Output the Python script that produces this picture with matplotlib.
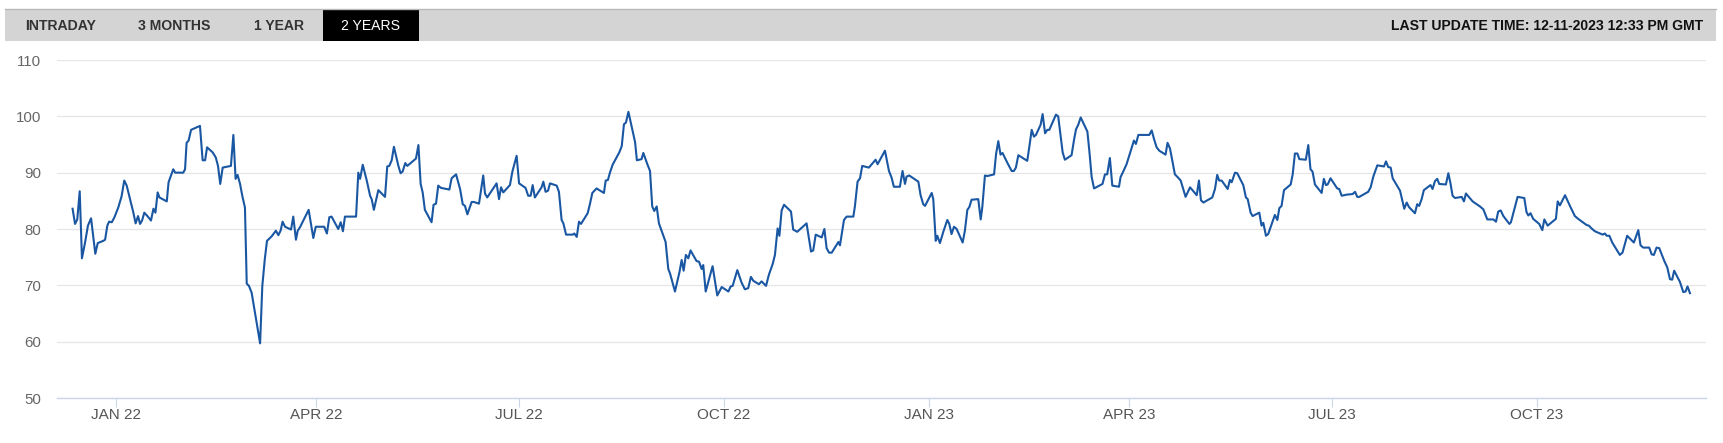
import numpy as np
import pandas as pd
import matplotlib
matplotlib.use("Agg")
import matplotlib.pyplot as plt
from matplotlib.patches import Rectangle
from matplotlib.lines import Line2D

# ---------------- data ----------------
start_date = "2022-01-01"
# day offsets (days since start_date) and price values
day_offsets = [
    -19.5, -18.4, -17.4, -16.3, -15.3, -13.9, -12.6, -11.2, -9.3, -8.2,
    -5.7, -4.9, -3.9, -3.1, -1.9, -0.8, 1.0, 2.5, 3.7, 4.8,
    6.3, 7.8, 8.8, 9.9, 10.8, 11.7, 12.7, 14.1, 15.7, 16.8,
    17.7, 18.7, 19.5, 22.8, 23.6, 24.7, 25.7, 26.6, 30.2, 31.0,
    31.7, 32.6, 33.7, 37.7, 38.9, 40.0, 40.9, 43.4, 44.8, 45.8,
    46.8, 47.9, 51.6, 52.7, 53.7, 54.6, 55.7, 56.7, 57.9, 58.7,
    59.7, 60.9, 64.7, 65.7, 66.8, 67.8, 69.9, 71.8, 72.9, 73.9,
    74.8, 75.9, 78.6, 79.6, 80.8, 81.6, 82.6, 86.5, 88.6, 89.7,
    93.5, 94.7, 95.8, 96.8, 99.8, 100.9, 101.9, 102.8, 107.8, 108.8,
    109.6, 110.8, 112.6, 114.1, 114.8, 115.8, 117.8, 120.8, 121.8, 122.7,
    123.8, 124.8, 126.8, 127.8, 128.7, 129.9, 130.8, 134.7, 135.8, 136.8,
    137.7, 138.7, 139.8, 141.7, 142.6, 143.7, 144.7, 145.9, 149.7, 150.7,
    152.7, 154.5, 155.7, 156.7, 157.8, 159.7, 160.7, 163.0, 164.9, 165.7,
    166.7, 170.9, 172.0, 172.9, 173.9, 176.9, 178.0, 179.9, 181.0, 183.9,
    185.1, 186.2, 187.1, 188.1, 191.1, 191.9, 192.9, 194.0, 194.9, 197.9,
    198.9, 200.1, 200.9, 202.1, 205.1, 205.8, 206.9, 207.9, 208.8, 211.8,
    212.8, 213.9, 215.8, 219.1, 219.9, 220.9, 221.8, 223.0, 226.0, 227.1,
    228.1, 229.0, 230.1, 233.1, 233.9, 236.0, 236.8, 238.6,
    239.8, 240.8, 241.7, 242.8, 243.8, 245.0, 246.8, 248.0, 248.8, 251.0,
    253.0, 254.0, 254.9, 255.9, 257.0, 258.0, 260.7, 261.8, 263.0, 263.7,
    264.8, 267.9, 270.0, 272.0, 275.0, 276.0, 276.9, 279.0, 280.9, 282.4,
    283.9, 285.1, 286.2, 288.7, 289.9, 291.9, 293.2, 294.9, 295.9, 297.1,
    297.9, 298.9, 300.0, 303.1, 304.1, 305.9, 310.1, 312.1, 313.1, 314.2,
    316.9, 318.1, 319.1, 320.2, 321.4, 324.4, 325.1, 326.9, 328.1, 331.1,
    331.8, 333.0, 334.1, 335.1, 338.1, 341.1, 342.0, 345.3, 347.1, 348.3,
    349.3, 352.0, 353.2, 354.3, 355.0, 356.2, 360.3, 361.3, 362.5, 363.3,
    366.3, 367.0,
    368.1, 368.8, 370.0, 371.5, 373.3, 374.2, 375.2, 376.3, 377.5, 380.2,
    381.2, 382.3, 383.2, 384.2, 387.2, 388.3, 389.0, 390.2, 391.3, 394.3,
    395.2, 396.2, 397.2, 398.1, 400.2, 402.2, 403.2, 404.1, 405.2, 409.2,
    410.1, 411.2, 412.2, 413.1, 415.2, 416.1, 417.2, 418.2, 419.1, 422.1,
    423.1, 424.2, 425.1, 426.1, 429.1, 430.2, 431.1, 432.1, 433.2, 436.2,
    437.1, 438.1, 439.2, 443.0, 444.1, 445.1, 446.3, 447.4, 450.4, 451.1,
    452.3, 453.8, 457.1, 458.0, 459.1, 464.0, 465.1, 466.1, 467.3, 468.5,
    471.3, 472.2, 473.3, 475.5, 477.0, 478.1, 480.3, 482.3, 485.3, 486.3,
    487.2, 488.3, 492.3, 493.5, 494.5, 495.4, 496.5, 499.2,
    500.2, 501.0, 502.5, 503.5, 506.2, 507.4, 508.2, 509.5, 510.4, 513.4,
    514.4, 515.2, 516.4, 517.4, 520.4, 521.5, 522.4, 523.4, 524.5, 527.5,
    528.4, 529.4, 530.5, 531.4, 534.3, 535.4, 536.4, 537.3, 538.4, 541.4,
    542.4, 543.3, 544.1, 545.4, 547.4, 548.4, 549.3, 550.4, 551.4, 552.6,
    555.3, 556.4, 557.4, 558.3, 562.3, 563.4, 564.6, 566.4, 569.4, 570.3,
    571.3, 572.4, 573.3, 576.6, 578.5, 579.6, 580.6, 583.3, 584.3, 585.2,
    586.3, 587.3, 590.3, 591.2, 592.3, 593.3, 594.2, 597.2, 598.3, 599.3,
    600.2, 601.3, 604.3, 605.3, 606.2, 609.2,
    612.5, 614.0, 614.7, 615.8, 618.5, 619.7, 620.7, 621.8, 623.0, 625.7,
    626.4, 629.4, 632.4, 633.4, 634.2, 635.2, 636.4, 639.1, 640.5, 641.4,
    642.9, 646.6, 647.4, 648.4, 650.7, 652.9, 655.1, 656.6, 660.4, 661.4,
    662.6, 664.1, 667.6, 668.6, 669.4, 670.6, 671.9, 675.3, 676.5, 678.6,
    681.6, 683.6, 684.6, 685.8, 688.5, 689.6, 690.6, 691.8, 693.0, 695.3,
    696.6, 697.8, 698.8, 699.7, 702.3, 703.8, 704.8, 705.7, 706.8,
]
prices = [
    83.6, 80.9, 81.7, 86.7, 74.8, 77.6, 80.6, 81.9, 75.6, 77.5,
    77.9, 78.1, 80.6, 81.3, 81.2, 82.0, 83.8, 85.8, 88.6, 87.7,
    85.3, 82.9, 81.0, 82.3, 80.9, 81.5, 82.9, 82.3, 81.5, 83.6,
    82.9, 86.5, 85.6, 84.9, 88.3, 89.5, 90.6, 90.0, 90.0, 90.6,
    95.3, 95.7, 97.6, 98.3, 92.2, 92.2, 94.5, 93.6, 92.7, 91.2,
    88.0, 90.9, 91.2, 96.7, 88.9, 89.6, 88.0, 85.9, 83.8, 70.3,
    69.9, 68.7, 59.7, 69.9, 74.6, 77.9, 78.7, 79.7, 78.9, 79.7,
    81.3, 80.4, 79.9, 82.2, 78.1, 79.7, 80.3, 83.4, 78.4, 80.4,
    80.4, 79.2, 82.1, 82.2, 80.0, 81.2, 79.6, 82.2, 82.2, 90.0,
    88.9, 91.4, 88.6, 85.9, 85.3, 83.4, 86.9, 85.7, 91.1, 91.2,
    92.2, 94.6, 91.2, 89.9, 90.2, 91.7, 91.2, 92.5, 94.9, 88.0,
    86.5, 83.4, 82.6, 81.2, 84.3, 84.5, 87.7, 87.3, 87.0, 89.0,
    89.7, 87.1, 84.4, 84.1, 82.6, 84.8, 84.8, 84.5, 89.5, 86.3,
    85.6, 88.1, 85.3, 87.4, 86.5, 87.8, 90.2, 93.0, 88.1, 87.3,
    85.9, 85.9, 87.8, 85.6, 87.4, 88.4, 86.6, 86.8, 88.1, 87.7,
    86.6, 81.6, 81.0, 79.0, 79.0, 79.2, 78.6, 81.3, 80.9, 82.8,
    84.4, 86.4, 87.2, 86.4, 88.6, 88.7, 90.0, 91.4, 93.6, 94.7,
    98.6, 98.9, 100.8, 95.4, 92.2, 92.4, 93.5, 91.5,
    90.3, 84.0, 83.2, 84.0, 81.0, 79.7, 77.7, 72.9, 72.1, 68.9,
    72.3, 74.5, 72.6, 75.4, 74.8, 76.2, 74.3, 74.2, 72.9, 73.6,
    68.9, 73.4, 68.2, 69.7, 68.9, 69.8, 69.9, 72.7, 70.5, 69.3,
    69.5, 71.5, 70.8, 70.2, 70.7, 69.9, 71.9, 73.8, 75.4, 80.1,
    78.8, 83.3, 84.3, 83.1, 79.9, 79.5, 81.0, 76.0, 76.2, 79.0,
    78.5, 80.0, 76.6, 75.8, 75.8, 77.7, 77.1, 81.6, 82.2, 82.2,
    84.0, 88.4, 89.0, 91.2, 90.9, 92.3, 91.5, 93.9, 90.3, 89.1,
    87.5, 87.5, 90.3, 88.0, 89.3, 89.5, 88.4, 86.0, 84.4, 84.1,
    86.4, 85.3,
    77.9, 78.8, 77.5, 79.5, 81.6, 80.9, 79.1, 80.4, 80.0, 77.6,
    79.7, 83.4, 83.9, 85.2, 85.3, 81.7, 83.8, 89.5, 89.4, 89.7,
    93.3, 95.6, 93.2, 93.5, 91.8, 90.3, 90.3, 90.9, 93.1, 92.1,
    94.5, 97.6, 96.4, 96.7, 98.5, 100.4, 97.0, 97.6, 97.6, 100.3,
    100.0, 96.4, 93.6, 92.3, 93.1, 95.8, 97.7, 98.5, 99.8, 97.3,
    93.8, 89.3, 87.2, 88.0, 89.7, 89.7, 92.6, 87.7, 87.5, 89.2,
    90.2, 91.5, 95.7, 95.1, 96.7, 96.7, 97.5, 96.0, 94.5, 93.9,
    93.2, 95.3, 94.3, 89.7, 89.1, 88.6, 85.7, 87.4, 86.0, 88.6,
    85.1, 84.7, 85.6, 87.1, 89.6, 88.6, 88.6, 87.1,
    88.7, 88.3, 90.0, 89.9, 87.8, 85.6, 85.3, 82.9, 82.3, 82.9,
    80.6, 81.1, 78.8, 79.1, 82.5, 81.6, 83.7, 84.1, 86.9, 87.9,
    89.7, 93.4, 93.4, 92.4, 92.3, 94.9, 90.6, 90.2, 87.9, 86.4,
    88.9, 87.8, 87.9, 89.0, 87.8, 87.2, 87.1, 85.9, 86.0, 86.1,
    86.2, 86.6, 85.7, 85.7, 86.6, 87.4, 89.3, 91.3, 91.1, 92.0,
    91.0, 90.9, 89.0, 86.8, 83.6, 84.7, 83.9, 82.8, 84.4, 84.1,
    85.3, 86.9, 87.8, 87.1, 88.5, 88.9, 88.0, 87.9, 89.9, 88.0,
    85.9, 85.5, 85.7, 84.9, 86.3, 84.9,
    84.0, 83.5, 82.8, 81.7, 81.7, 81.3, 83.1, 83.3, 82.3, 80.9,
    81.2, 85.7, 85.5, 83.0, 82.4, 82.8, 81.8, 80.9, 79.8, 81.7,
    80.6, 81.8, 84.9, 84.2, 86.0, 84.1, 82.3, 81.8, 80.7, 80.6,
    80.1, 79.6, 79.0, 79.2, 78.8, 78.8, 77.6, 75.4, 75.8, 78.8,
    77.6, 79.8, 77.1, 76.7, 76.7, 75.5, 75.4, 76.7, 76.6, 74.3,
    73.2, 71.1, 71.0, 72.6, 70.6, 68.8, 68.9, 69.8, 68.6,
]

tick_dates = ["2022-01-01", "2022-04-01", "2022-07-01", "2022-10-01",
              "2023-01-01", "2023-04-01", "2023-07-01", "2023-10-01"]
tick_labels = ["JAN 22", "APR 22", "JUL 22", "OCT 22",
               "JAN 23", "APR 23", "JUL 23", "OCT 23"]
y_ticks = [50, 60, 70, 80, 90, 100, 110]

tabs = ["INTRADAY", "3 MONTHS", "1 YEAR", "2 YEARS"]
update_text = "LAST UPDATE TIME: 12-11-2023 12:33 PM GMT"

# ---------------- figure ----------------
W, H = 1724, 443
plt.rcParams['font.family'] = ['Liberation Sans', 'DejaVu Sans']

fig = plt.figure(figsize=(W / 100, H / 100), dpi=100)
fig.patch.set_facecolor("white")

def fx(px):
    return px / W

def fy(py):
    return 1 - py / H

# top bar
fig.patches.append(Rectangle((fx(5), fy(40.7)), fx(1716) - fx(5), fy(9) - fy(40.7),
                             transform=fig.transFigure, facecolor="#d4d4d4",
                             edgecolor="none", zorder=0))
fig.lines.append(Line2D([fx(5), fx(1716)], [fy(9), fy(9)], transform=fig.transFigure,
                        color="#b9b9b9", lw=1.0))
fig.patches.append(Rectangle((fx(323), fy(40.7)), fx(419) - fx(323), fy(9.5) - fy(40.7),
                             transform=fig.transFigure, facecolor="#000000",
                             edgecolor="none", zorder=1))

tab_x = [25, 138, 254]
for t, x in zip(tabs[:3], tab_x):
    fig.text(fx(x), fy(30.3), t, ha="left", va="baseline", fontsize=10.1,
             fontweight="bold", color="#333333")
fig.text(fx(371), fy(30.3), tabs[3], ha="center", va="baseline", fontsize=10.1,
         fontweight="normal", color="white", zorder=3)
fig.text(fx(1703), fy(30.3), update_text, ha="right", va="baseline", fontsize=10.1,
         fontweight="bold", color="#111111")

# plot area
ax = fig.add_axes([fx(57), fy(398), fx(1706) - fx(57), fy(60) - fy(398)])
base = pd.Timestamp(start_date)
dates = base + pd.to_timedelta(np.array(day_offsets), unit="D")
ax.plot(dates, prices, color="#1a57a3", lw=1.5, solid_joinstyle="round", zorder=3)

ax.set_ylim(50, 110)
ax.set_xlim(base - pd.Timedelta(days=26.5), base + pd.Timedelta(days=714.0))
ax.set_yticks(y_ticks)
ax.set_yticklabels([str(v) for v in y_ticks])
ax.set_xticks(pd.to_datetime(tick_dates))
ax.set_xticklabels(tick_labels)

for s in ["top", "right", "left"]:
    ax.spines[s].set_visible(False)
ax.spines["bottom"].set_color("#ccd6eb")
ax.spines["bottom"].set_linewidth(1.0)

ax.grid(axis="y", color="#e6e6e6", lw=0.9)
ax.set_axisbelow(True)
ax.tick_params(axis="y", length=0, pad=11.5, labelsize=10.8, labelcolor="#666666")
ax.tick_params(axis="x", length=6.2, width=0.8, color="#ccd6eb", pad=1,
               labelsize=11, labelcolor="#555555")

fig.savefig("out.png", dpi=100, facecolor="white")
